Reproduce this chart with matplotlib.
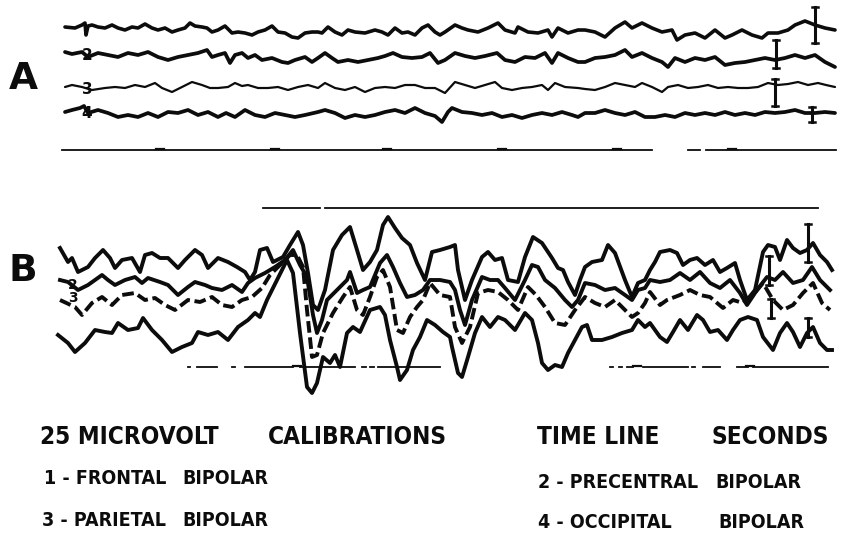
import matplotlib
matplotlib.use("Agg")
import matplotlib.pyplot as plt
from matplotlib import font_manager as fm

# EEG traces: (time, deflection) pairs.
# Time in sample units along the record, deflection downward-positive (EEG convention).

a1 = [(65, -3), (75, -2), (82, -5), (85, -7), (86, 5), (88, -4), (92, -5), (98, -3), (105, -2), (112, -5),
      (118, -2), (125, 0), (132, -3), (138, -2), (145, -6), (152, -2), (158, 0), (165, -2), (172, 2), (178, 0),
      (185, -2), (190, -7), (195, -4), (202, -3), (207, -2), (212, 2), (218, 0), (225, -4), (232, 3), (238, 2),
      (245, 3), (252, 5), (258, 2), (265, 0), (272, -4), (278, 2), (285, 3), (292, 7), (298, 8), (305, 3),
      (312, 2), (318, 2), (322, 3), (328, -3), (335, 2), (342, 5), (348, 0), (355, 2), (365, 3), (375, 0),
      (382, 2), (388, 5), (395, -2), (402, 3), (408, 2), (415, 5), (422, -2), (428, -5), (435, 2), (440, 5),
      (445, 2), (455, -5), (462, -2), (468, 0), (478, 2), (488, -2), (498, -7), (505, 0), (515, 3), (518, -3),
      (528, 2), (538, 3), (548, 0), (552, 7), (558, -2), (568, 3), (578, 0), (585, 0), (595, 2), (605, 7),
      (615, -2), (625, -8), (632, -2), (642, -7), (652, -2), (662, 2), (672, 0), (677, 10), (685, 5), (695, 3),
      (705, 8), (715, 0), (725, 8), (732, 5), (742, 0), (752, 5), (762, 8), (768, 3), (778, 3), (788, 0),
      (795, -5), (805, -9), (815, -5), (825, -2), (835, 0)]

a2 = [(65, -6), (72, -4), (82, -6), (88, -1), (98, -5), (108, -3), (118, -1), (128, -5), (138, -3), (148, -6),
      (158, -1), (168, 2), (178, -1), (188, -3), (198, -5), (207, -8), (212, -1), (218, -3), (225, -5), (230, 5),
      (235, -3), (242, -5), (248, 0), (255, -3), (262, 2), (272, 0), (282, 4), (288, 5), (295, 2), (305, -1),
      (312, 4), (318, 0), (325, -5), (332, 0), (338, 4), (348, 2), (358, 4), (368, 2), (378, 0), (385, -2),
      (393, -5), (402, -1), (412, 0), (422, -1), (430, -5), (438, 5), (445, 2), (455, -5), (465, -2), (475, 0),
      (485, -2), (497, -5), (505, 2), (515, 4), (525, -1), (535, 0), (545, -5), (552, 5), (558, -5), (568, 0),
      (578, 4), (585, 4), (595, 0), (605, -1), (615, -3), (625, -8), (632, -1), (642, -5), (652, 0), (662, 4),
      (668, 9), (675, 0), (685, 4), (695, 0), (705, 2), (715, -1), (725, 7), (735, 5), (745, 4), (755, 2),
      (765, 0), (775, 2), (785, 0), (795, -3), (805, 0), (815, -3), (825, 4), (835, 9)]

a3 = [(65, 0), (72, -2), (82, 0), (92, 3), (105, 1), (115, 0), (125, 1), (135, -2), (145, 0), (155, -4),
      (162, 1), (172, 5), (182, 0), (192, -5), (202, -2), (210, 1), (218, 1), (228, 0), (235, -4), (242, -1),
      (248, -2), (258, 1), (268, 1), (278, 0), (288, 3), (298, 0), (308, -2), (318, 1), (325, -4), (335, 1),
      (345, 3), (355, 0), (365, 5), (375, 1), (385, 0), (395, 1), (405, -2), (415, -2), (425, 1), (435, 1),
      (445, 6), (455, -5), (465, -2), (475, 1), (485, -2), (495, -5), (502, 1), (512, 3), (522, 1), (532, 0),
      (542, -2), (548, 3), (555, -4), (565, 0), (578, 1), (585, 2), (595, 3), (605, 0), (615, -4), (625, -2),
      (635, 0), (642, -4), (652, 0), (662, 5), (668, 0), (678, -2), (688, 1), (698, 0), (708, -2), (718, 1),
      (728, 0), (738, 1), (748, 1), (758, 0), (768, -4), (778, -2), (788, -3), (798, -5), (808, -2), (818, -4),
      (826, -2), (835, 0)]

a4 = [(65, -1), (72, -3), (80, -5), (84, -7), (88, 0), (98, -3), (108, 0), (118, 4), (128, 2), (138, 4),
      (148, 0), (158, 4), (168, -1), (178, 0), (188, -3), (198, 2), (208, -1), (218, 4), (226, 0), (235, 4),
      (245, -3), (255, 2), (265, 4), (275, 0), (285, 2), (295, 4), (305, 2), (318, -1), (325, -3), (335, 0),
      (345, 5), (355, 2), (365, 4), (375, 2), (385, -1), (395, -3), (405, 0), (415, -5), (425, 0), (435, 3),
      (442, 9), (448, -1), (452, -5), (462, -1), (472, 0), (482, 2), (492, 0), (502, 4), (512, 2), (522, 5),
      (532, 2), (542, 0), (552, 2), (562, -1), (572, 2), (578, 4), (585, 0), (595, 0), (605, -3), (615, 0),
      (625, 2), (635, -1), (645, 4), (655, 4), (665, 2), (675, 4), (685, 0), (695, 2), (705, 0), (715, 2),
      (725, -1), (735, 2), (745, 0), (755, 2), (765, -1), (775, 0), (785, -1), (795, -3), (805, 0), (815, 0),
      (825, -1), (835, 0)]

b1 = [(60, -12), (68, 2), (72, -2), (78, 12), (88, 7), (95, -2), (103, -10), (110, -2), (115, 8), (122, 0),
      (132, -2), (140, 12), (145, -5), (152, -7), (160, -2), (168, -2), (178, 8), (185, 0), (195, -10), (202, -5),
      (208, 8), (218, -2), (228, 2), (237, 7), (245, 12), (250, 20), (255, 12), (260, -10), (267, -12), (273, 2),
      (283, -3), (290, -15), (298, -28), (303, -15), (308, 13), (313, 45), (318, 50), (325, 30), (333, -10),
      (342, -25), (350, -33), (357, -10), (363, 10), (370, 2), (377, -10), (383, -35), (388, -43), (395, -32),
      (402, -22), (410, -15), (417, 3), (425, 20), (432, -8), (440, -10), (450, -13), (455, -15), (458, 10),
      (465, 40), (472, 20), (482, -3), (488, -8), (495, 0), (502, -2), (508, 20), (518, 22), (525, -3),
      (533, -23), (542, -17), (552, -2), (558, 8), (563, 10), (568, 22), (575, 35), (580, 20), (585, 7),
      (592, 2), (602, 0), (608, -15), (615, -7), (625, 20), (632, 37), (638, 23), (645, 20), (650, 10),
      (655, 2), (660, -8), (670, -10), (677, -7), (683, 5), (690, 0), (697, -2), (705, 5), (713, 0), (720, 12),
      (727, 8), (735, 3), (740, 20), (747, 40), (755, 30), (763, -8), (768, -15), (775, -13), (780, 0),
      (787, -20), (793, -12), (800, -7), (807, -10), (813, -17), (820, -5), (827, 2), (832, 10)]

b2 = [(60, -5), (68, -3), (78, 5), (88, 0), (102, -10), (108, -5), (115, 0), (125, -5), (135, -8), (142, -2),
      (148, -7), (160, -3), (168, 0), (178, 10), (188, 2), (195, -3), (205, 0), (212, 3), (222, 5), (232, 0),
      (242, 7), (248, -2), (255, -7), (265, -12), (275, -18), (285, -25), (293, -35), (300, -20), (307, -8),
      (313, 30), (317, 48), (322, 35), (327, 15), (337, 5), (347, -5), (350, -13), (357, 8), (363, 5), (370, 2),
      (380, -22), (387, -30), (393, -18), (400, -2), (407, 12), (415, 10), (423, 5), (430, -5), (440, -5),
      (450, -3), (455, 5), (460, 25), (465, 40), (472, 15), (482, -8), (490, -5), (498, -5), (505, 3), (515, 15),
      (525, -5), (532, -20), (538, -18), (545, -5), (555, 3), (565, 15), (572, 22), (578, 15), (585, -2),
      (595, 0), (605, 5), (615, 3), (625, 10), (632, 15), (638, 5), (645, 3), (650, -5), (660, -3), (670, -5),
      (680, -12), (690, -5), (700, -13), (710, -2), (720, 3), (730, -5), (740, 8), (747, 20), (757, 5),
      (767, -8), (775, -5), (783, -13), (793, -2), (803, -5), (812, -18), (820, -5), (830, 5)]

b3 = [(60, 0), (75, 7), (82, 15), (92, 3), (102, -3), (112, 5), (122, -5), (135, -7), (145, 0), (155, -2),
      (165, 5), (175, 10), (188, 0), (200, 2), (212, -3), (222, 5), (232, 7), (242, 0), (252, -3), (262, -12),
      (270, -25), (280, -35), (290, -45), (297, -45), (303, -33), (307, 10), (312, 57), (317, 55), (323, 33),
      (333, 13), (343, -3), (350, -13), (357, 10), (363, 15), (370, -3), (377, -23), (383, -30), (390, -13),
      (397, 30), (403, 33), (410, 17), (417, 7), (423, 0), (430, -17), (440, -5), (450, -3), (455, 27),
      (462, 43), (470, 27), (478, -7), (488, -10), (498, -8), (508, 0), (518, 10), (528, -13), (536, -5),
      (545, 7), (555, 23), (565, 25), (575, 10), (585, -3), (595, 3), (605, 7), (615, 0), (625, 10), (632, 17),
      (638, 13), (645, 3), (650, -8), (660, 5), (667, 0), (680, -5), (690, -10), (700, -5), (710, -3),
      (723, 8), (733, 0), (743, 3), (753, -5), (763, -17), (773, 0), (783, 10), (793, 5), (803, -7), (813, -17),
      (822, 3), (830, 10)]

b4 = [(58, 0), (68, 8), (75, 17), (85, 8), (95, -5), (105, -3), (112, -2), (118, -12), (128, -5), (138, -7),
      (143, -17), (152, -5), (162, 5), (172, 17), (182, 12), (192, 8), (198, -3), (208, 0), (218, -3), (228, 5),
      (238, -8), (248, -15), (255, -22), (260, -18), (267, -35), (277, -55), (287, -75), (293, -62), (300, -2),
      (307, 52), (312, 58), (317, 48), (323, 22), (330, 28), (335, 20), (340, 32), (347, -2), (353, -8),
      (360, -3), (370, -25), (380, -28), (385, -20), (390, 5), (397, 32), (400, 45), (407, 35), (413, 15),
      (420, 2), (427, -15), (435, -10), (443, -3), (450, 2), (452, 12), (458, 38), (462, 42), (468, 22),
      (475, -2), (482, -18), (490, -8), (498, -18), (505, -15), (515, -5), (525, -22), (532, -15), (538, 8),
      (542, 28), (548, 35), (555, 30), (562, 32), (568, 18), (575, 5), (582, -8), (587, -10), (592, 5),
      (602, 5), (612, 2), (622, -2), (632, -5), (638, -15), (645, -8), (650, -12), (660, 2), (667, 7),
      (673, -3), (680, -15), (688, -5), (697, -20), (703, -15), (710, -3), (718, -5), (727, 5), (733, -5),
      (740, -15), (748, -18), (757, -15), (763, 2), (773, 15), (780, -2), (787, -12), (793, -3), (800, 12),
      (807, -2), (813, -8), (820, 8), (827, 15), (832, 15)]

# channel baselines on the page
a_base = [30, 58, 87, 113]
b_base = [260, 285, 300, 335]

# 25 microvolt calibration marks: time, top, bottom
cal_t = [815, 776, 775, 812, 808, 769, 771, 808]
cal_top = [7, 40, 79, 107, 224, 256, 299, 318]
cal_bot = [43, 68, 106, 122, 262, 285, 318, 337]

# time lines (one-second marks)
a_time_segments = [(62, 652), (688, 700), (706, 836)]
a_second_marks = [160, 275, 387, 502, 617, 732]
b_top_segments = [(263, 320), (325, 818)]
b_time_segments = [(188, 190), (197, 217), (232, 235), (245, 293), (300, 355), (362, 366), (370, 374),
                   (378, 440), (610, 613), (619, 622), (627, 633), (643, 688), (692, 695), (703, 720),
                   (737, 748), (753, 828)]
b_second_marks = [297, 637, 750]

INK = "#0c0c0c"

# condensed bold face for the hand lettering, if installed
cond = [f for f in fm.fontManager.ttflist if f.name == "DejaVu Sans" and f.stretch == "condensed"]
if cond:
    letter_font = dict(family="DejaVu Sans", fontstretch="condensed", fontweight="bold")
else:
    letter_font = dict(family="DejaVu Sans", fontweight="bold")

fig = plt.figure(figsize=(8.41, 5.33), dpi=100)
ax = fig.add_axes([0, 0, 1, 1])
ax.set_xlim(0, 841)
ax.set_ylim(533, 0)
ax.axis("off")

for trace, base, lw in zip([a1, a2, a3, a4], a_base, [2.6, 2.7, 1.6, 2.7]):
    t, v = zip(*trace)
    ax.plot(t, [base + d for d in v], color=INK, lw=lw, solid_joinstyle="round", solid_capstyle="round")

for trace, base, ls in zip([b1, b2, b3, b4], b_base, ["-", "-", (0, (3, 1.2)), "-"]):
    t, v = zip(*trace)
    ax.plot(t, [base + d for d in v], color=INK, lw=2.8, ls=ls, solid_joinstyle="round")

for t, y0, y1 in zip(cal_t, cal_top, cal_bot):
    ax.plot([t, t], [y0, y1], color=INK, lw=2.2)
    ax.plot([t - 3, t + 3], [y0, y0], color=INK, lw=1.8)
    ax.plot([t - 3, t + 3], [y1, y1], color=INK, lw=1.8)

for x0, x1 in a_time_segments:
    ax.plot([x0, x1], [150, 150], color=INK, lw=1.3)
for s in a_second_marks:
    ax.plot([s - 4, s + 4], [148.5, 148.5], color=INK, lw=1.6)
for x0, x1 in b_top_segments:
    ax.plot([x0, x1], [208, 208], color=INK, lw=1.3)
for x0, x1 in b_time_segments:
    ax.plot([x0, x1], [367, 367], color=INK, lw=1.3)
for s in b_second_marks:
    ax.plot([s - 4, s + 4], [365.5, 365.5], color=INK, lw=1.6)

# panel letters and channel numbers
ax.text(23, 79, "A", fontsize=27, fontweight="bold", ha="center", va="center", color=INK)
ax.text(23, 271, "B", fontsize=27, fontweight="bold", ha="center", va="center", color=INK)
for lab, y in zip("234", [55, 90, 113]):
    ax.text(87, y, lab, fontsize=11, fontweight="bold", ha="center", va="center", color=INK)
ax.text(73, 285, "2", fontsize=10, fontweight="bold", ha="center", va="center", color=INK)
ax.text(73, 298, "3", fontsize=10, fontweight="bold", ha="center", va="center", color=INK)

# caption
def cap(x, y, s, size):
    ax.text(x, y, s, fontsize=size, va="center", ha="left", color=INK, **letter_font)

BIG, SMALL = 17.5, 14
cap(40, 437, "25 MICROVOLT", BIG)
cap(268, 437, "CALIBRATIONS", BIG)
cap(537, 437, "TIME LINE", BIG)
cap(712, 437, "SECONDS", BIG)
cap(44, 479, "1 - FRONTAL", SMALL)
cap(182, 479, "BIPOLAR", SMALL)
cap(538, 482, "2 - PRECENTRAL", SMALL)
cap(715, 482, "BIPOLAR", SMALL)
cap(42, 521, "3 - PARIETAL", SMALL)
cap(182, 521, "BIPOLAR", SMALL)
cap(538, 522, "4 - OCCIPITAL", SMALL)
cap(718, 522, "BIPOLAR", SMALL)

fig.savefig("out.png", dpi=100)
